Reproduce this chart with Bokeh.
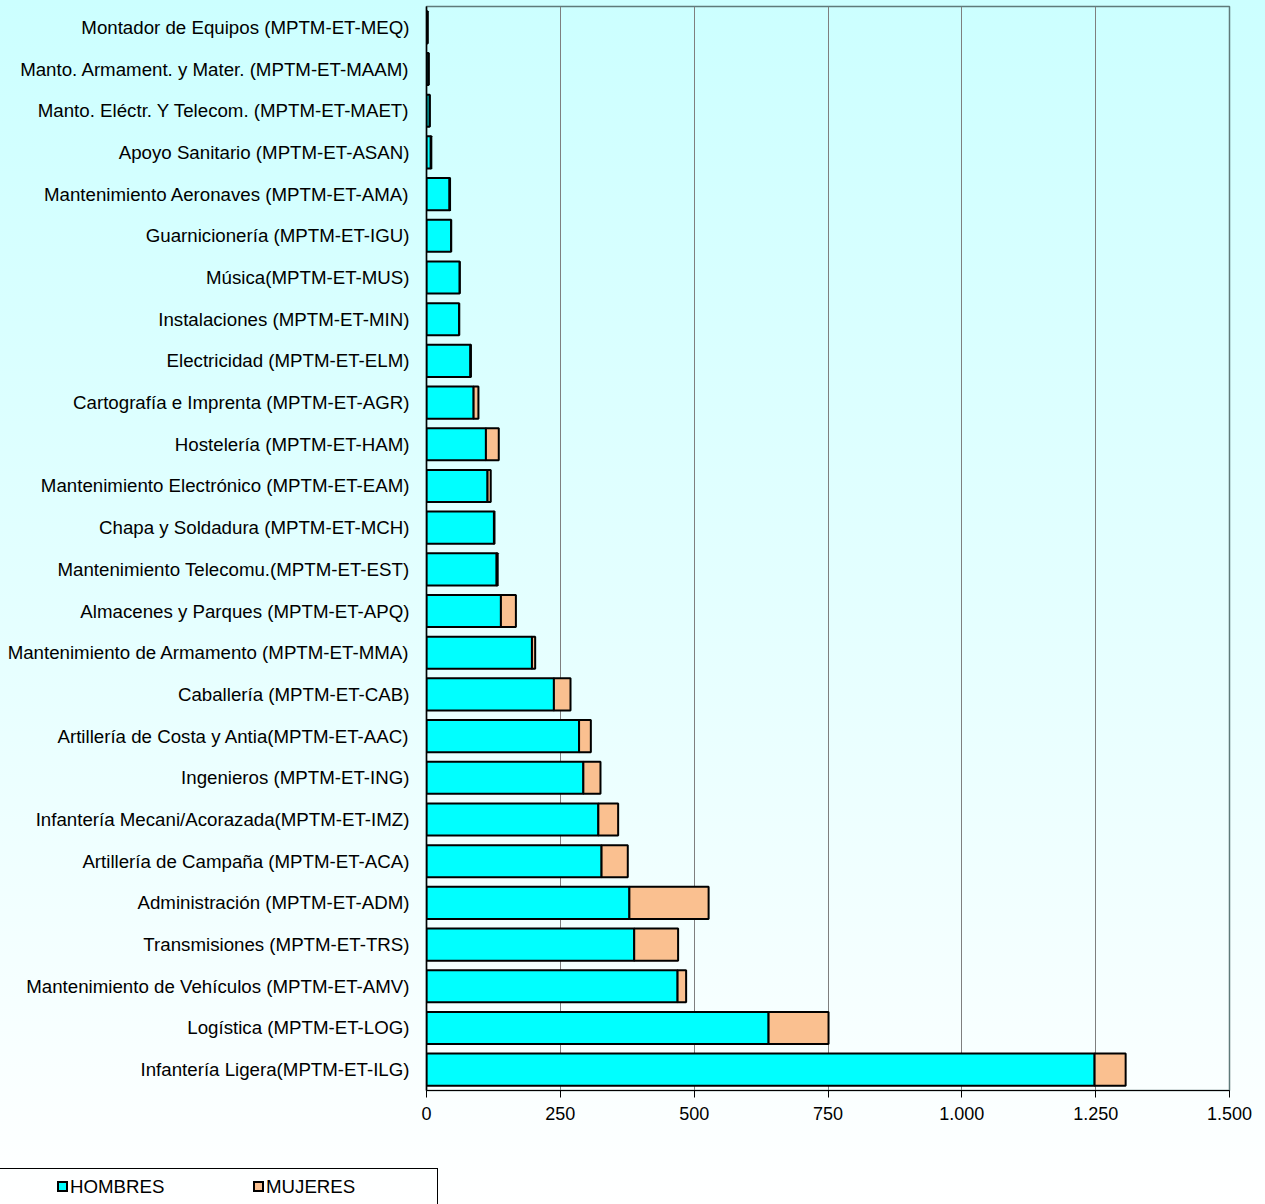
from bokeh.plotting import figure
from bokeh.layouts import column
from bokeh.models import (ColumnDataSource, FactorRange, Range1d, FixedTicker, Div)
from bokeh.embed import file_html
from bokeh.resources import INLINE

categorias = [
    "Montador de Equipos (MPTM-ET-MEQ)",
    "Manto. Armament. y Mater. (MPTM-ET-MAAM)",
    "Manto. Eléctr. Y Telecom. (MPTM-ET-MAET)",
    "Apoyo Sanitario (MPTM-ET-ASAN)",
    "Mantenimiento Aeronaves (MPTM-ET-AMA)",
    "Guarnicionería (MPTM-ET-IGU)",
    "Música(MPTM-ET-MUS)",
    "Instalaciones (MPTM-ET-MIN)",
    "Electricidad (MPTM-ET-ELM)",
    "Cartografía e Imprenta (MPTM-ET-AGR)",
    "Hostelería (MPTM-ET-HAM)",
    "Mantenimiento Electrónico (MPTM-ET-EAM)",
    "Chapa y Soldadura (MPTM-ET-MCH)",
    "Mantenimiento Telecomu.(MPTM-ET-EST)",
    "Almacenes y Parques (MPTM-ET-APQ)",
    "Mantenimiento de Armamento (MPTM-ET-MMA)",
    "Caballería (MPTM-ET-CAB)",
    "Artillería de Costa y Antia(MPTM-ET-AAC)",
    "Ingenieros (MPTM-ET-ING)",
    "Infantería Mecani/Acorazada(MPTM-ET-IMZ)",
    "Artillería de Campaña (MPTM-ET-ACA)",
    "Administración (MPTM-ET-ADM)",
    "Transmisiones (MPTM-ET-TRS)",
    "Mantenimiento de Vehículos (MPTM-ET-AMV)",
    "Logística (MPTM-ET-LOG)",
    "Infantería Ligera(MPTM-ET-ILG)",
]
hombres = [2, 4, 6, 8, 43, 46, 62, 61, 82, 88, 111, 114, 126, 131, 139, 197,
           238, 285, 293, 321, 327, 379, 388, 469, 639, 1248]
mujeres = [0, 0, 0, 1, 1, 0, 0, 0, 1, 9, 24, 6, 1, 2, 28, 6,
           31, 22, 32, 37, 49, 148, 82, 16, 112, 58]
series = ["HOMBRES", "MUJERES"]
colores = ["#00FFFF", "#FAC090"]
ticks = [0, 250, 500, 750, 1000, 1250, 1500]
tick_labels = ["0", "250", "500", "750", "1.000", "1.250", "1.500"]

FONT = "Liberation Sans"

source = ColumnDataSource(dict(cat=categorias, hombres=hombres, mujeres=mujeres))

p = figure(width=1265, height=1130, output_backend="svg", toolbar_location=None,
           y_range=FactorRange(factors=list(reversed(categorias))),
           x_range=Range1d(0, 1500),
           min_border_left=426, min_border_right=36, min_border_top=6,
           min_border_bottom=40)
p.background_fill_color = None
p.border_fill_color = None
p.outline_line_color = "#5f7a7a"
p.outline_line_width = 1.5

rs = p.hbar_stack(["hombres", "mujeres"], y="cat", height=0.77, color=colores,
                  line_color="black", line_width=2, source=source)

# axes
p.xaxis.ticker = FixedTicker(ticks=ticks)
p.xaxis.major_label_overrides = {t: l for t, l in zip(ticks, tick_labels)}
p.xaxis.major_tick_out = 7
p.xaxis.major_tick_in = 0
p.xaxis.minor_tick_line_color = None
p.xaxis.axis_line_color = "black"
p.xaxis.major_tick_line_color = "black"
p.xaxis.major_label_text_font = FONT
p.xaxis.major_label_text_font_size = "18px"
p.xaxis.major_label_text_color = "black"
p.xaxis.major_label_standoff = 9

p.yaxis.major_tick_out = 0
p.yaxis.major_tick_in = 0
p.yaxis.axis_line_color = "black"
p.yaxis.axis_line_width = 1.5
p.yaxis.major_label_text_font = FONT
p.yaxis.major_label_text_font_size = "18.7px"
p.yaxis.major_label_text_color = "black"
p.yaxis.major_label_standoff = 17

p.ygrid.grid_line_color = None
p.xgrid.grid_line_color = "#7f7f7f"
p.xgrid.grid_line_width = 1

# boxed legend below the chart
item_x = [57, 253]
parts = [
    '<div style="position:relative;width:1265px;height:74px;overflow:hidden;'
    'font-family:\'Liberation Sans\',Arial,sans-serif;font-size:18.7px;color:#000;">',
    '<div style="position:absolute;left:-2px;top:38px;width:440px;height:60px;'
    'border:1.5px solid #000;box-sizing:border-box;"></div>',
]
for name, col, x in zip(series, colores, item_x):
    parts.append(
        f'<div style="position:absolute;left:{x}px;top:51px;width:11px;height:11px;'
        f'background:{col};border:2px solid #000;box-sizing:border-box;"></div>')
    parts.append(
        f'<div style="position:absolute;left:{x + 13}px;top:46px;line-height:22px;'
        f'white-space:nowrap;">{name}</div>')
parts.append('</div>')
legend_div = Div(text="".join(parts), width=1265, height=74, margin=(0, 0, 0, 0))

layout = column(p, legend_div, spacing=0)
layout.styles = {"background": "linear-gradient(to bottom, #CCFFFF 0%, #E4FFFF 50%, #FFFFFF 100%)"}

open("out.html", "w").write(file_html(layout, INLINE))
